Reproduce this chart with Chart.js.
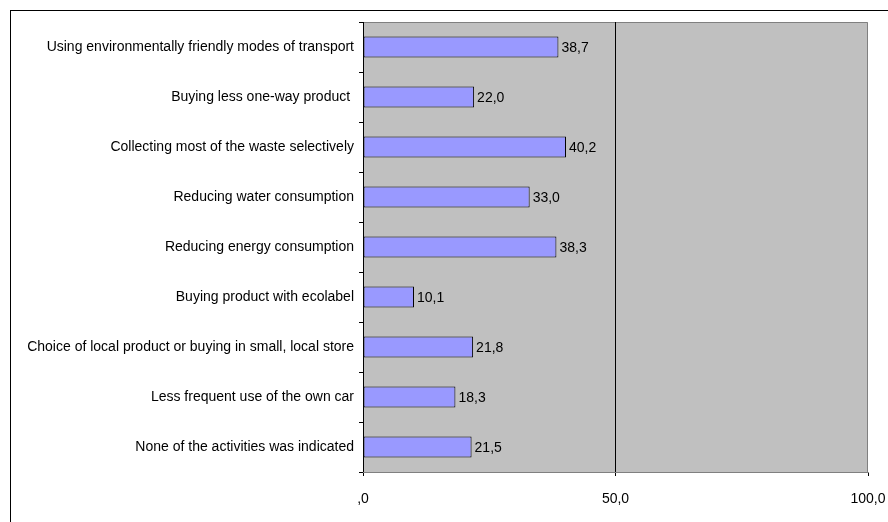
<!DOCTYPE html>
<html>
<head>
<meta charset="utf-8">
<script src="https://cdn.jsdelivr.net/npm/chart.js@4/dist/chart.umd.min.js"></script>
<style>
html,body{margin:0;padding:0;background:#fff;}
#wrap{width:888px;height:522px;}
</style>
</head>
<body>
<div id="wrap"><canvas id="c" width="888" height="522"></canvas></div>
<script>
const categories = [
  "Using environmentally friendly modes of transport",
  "Buying less one-way product ",
  "Collecting most of the waste selectively",
  "Reducing water consumption",
  "Reducing energy consumption",
  "Buying product with ecolabel",
  "Choice of local product or buying in small, local store",
  "Less frequent use of the own car",
  "None of the activities was indicated"
];
const values = [38.7, 22.0, 40.2, 33.0, 38.3, 10.1, 21.8, 18.3, 21.5];
const xTickValues = [0, 50, 100];
const xTickLabels = [",0", "50,0", "100,0"];

function fmt(v){ return v.toFixed(1).replace('.', ','); }

const decor = {
  id: 'decor',
  beforeDraw(chart){
    const ctx = chart.ctx, a = chart.chartArea;
    ctx.save();
    ctx.fillStyle = '#fff';
    ctx.fillRect(0,0,chart.width,chart.height);
    ctx.strokeStyle = '#000';
    ctx.lineWidth = 1;
    ctx.strokeRect(10.5, 10.5, 1000, 1000);
    ctx.fillStyle = '#C0C0C0';
    ctx.fillRect(a.left, a.top, a.right - a.left, a.bottom - a.top);
    ctx.strokeStyle = '#808080';
    ctx.beginPath();
    ctx.moveTo(a.left, a.top + 0.5);
    ctx.lineTo(a.right - 0.5, a.top + 0.5);
    ctx.lineTo(a.right - 0.5, a.bottom);
    ctx.stroke();
    ctx.restore();
  },
  afterDatasetsDraw(chart){
    const ctx = chart.ctx;
    const meta = chart.getDatasetMeta(0);
    ctx.save();
    ctx.font = '14px "Liberation Sans", Arial, sans-serif';
    ctx.fillStyle = '#000';
    ctx.textAlign = 'left';
    ctx.textBaseline = 'middle';
    meta.data.forEach((bar, i) => {
      ctx.fillText(fmt(values[i]), bar.x + 3, bar.y + 1);
    });
    ctx.restore();
  }
};

new Chart(document.getElementById('c'), {
  type: 'bar',
  data: {
    labels: categories,
    datasets: [{
      data: values,
      backgroundColor: '#9999FF',
      borderColor: '#000000',
      borderWidth: 1,
      borderSkipped: false,
      categoryPercentage: 1.0,
      barPercentage: 0.42
    }]
  },
  options: {
    indexAxis: 'y',
    responsive: false,
    animation: false,
    devicePixelRatio: 1,
    layout: { padding: { left: 10, right: 20, top: 22, bottom: 0 } },
    plugins: { legend: { display: false }, tooltip: { enabled: false } },
    scales: {
      y: {
        type: 'category',
        offset: true,
        grid: { offset: true, drawOnChartArea: false, tickLength: 4, color: '#000' },
        border: { display: true, color: '#000', width: 1 },
        ticks: {
          padding: 5,
          color: '#000',
          autoSkip: false,
          font: { family: '"Liberation Sans", Arial, sans-serif', size: 14 }
        },
        afterFit(scale){ scale.width = 353; scale.paddingTop = 0; scale.paddingBottom = 0; }
      },
      x: {
        min: 0, max: 100,
        afterBuildTicks(scale){ scale.ticks = xTickValues.map(v => ({ value: v })); },
        grid: {
          color: (c) => (c.tick && c.tick.value === 50) ? '#000' : 'rgba(0,0,0,0)',
          tickColor: '#000',
          tickLength: 4,
          drawOnChartArea: true
        },
        border: { display: true, color: '#808080', width: 1 },
        ticks: {
          padding: 15,
          color: '#000',
          maxRotation: 0,
          font: { family: '"Liberation Sans", Arial, sans-serif', size: 14 },
          callback: (v, i) => xTickLabels[i]
        },
        afterFit(scale){ scale.height = 50; scale.paddingLeft = 0; scale.paddingRight = 0; }
      }
    }
  },
  plugins: [decor]
});
</script>
</body>
</html>
